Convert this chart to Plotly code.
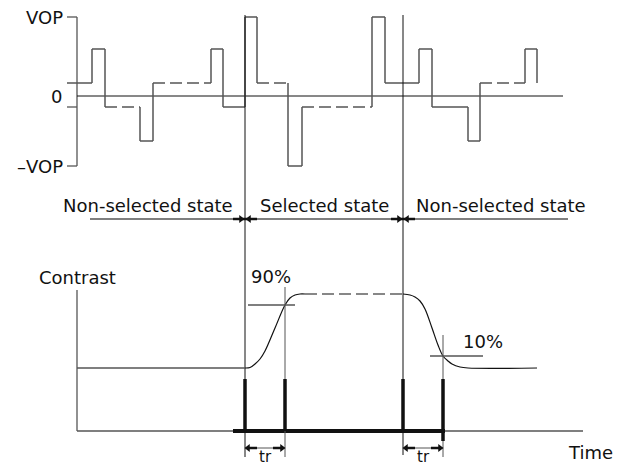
import plotly.graph_objects as go

# ---------------- data (diagram units: time along x, level along y, y grows downward) -------------
# voltage levels (vertical positions)
LV_VOP, LV_MID, LV_SMALL, LV_ZERO = 17, 49, 83, 96
LV_NSMALL, LV_NMID, LV_NVOP = 107, 141, 166

# waveform steps: start time, end time, level, dashed?
step_start = [67, 92, 105, 140, 153, 211, 223, 245, 257, 288, 302, 372, 385, 419, 432, 468, 480, 525]
step_end   = [92, 105, 140, 153, 211, 223, 245, 257, 288, 302, 372, 385, 419, 432, 468, 480, 525, 537]
step_level = [83, 49, 107, 141, 83, 49, 107, 17, 83, 166, 107, 17, 83, 49, 107, 141, 83, 49]
step_dash  = [0, 0, 1, 0, 1, 0, 0, 0, 1, 0, 1, 0, 0, 0, 0, 0, 1, 0]
wave_end_level = 83

axis_x = 77
tick_x0 = 67
zero_line = [77, 563]

# selection boundaries
t_sel_on, t_sel_off = 245, 403
boundary_top, boundary_bottom = [15, 15], [457, 455]

# state band
state_line_y = 219
state_line_x = [90, 568]
state_labels = ["Non-selected state", "Selected state", "Non-selected state"]
state_label_x = [148, 324, 501]
state_label_y = 205

# contrast response
contrast_low_t = [77, 245]
contrast_low_v = [368, 368]
rise_t = [245, 250, 255, 260, 265, 275, 285, 290, 295, 300, 305]
rise_v = [368, 367.5, 364, 359, 351, 328, 305, 298, 295, 294, 294]
hold_t = [305, 403]
hold_v = [294, 294]
fall_t = [403, 410, 415, 420, 425, 432, 438, 443, 448, 452, 460, 468, 537]
fall_v = [294, 295, 297, 301, 309, 328, 345, 356, 361, 364, 367, 368, 368]

contrast_axis_x = 77
contrast_axis_top = 290
time_axis_y = 431
time_axis_x = [77, 583]
time_bold_x = [233, 445]

t90, c90 = 285, 305
t10, c10 = 443, 356
bar_top = 379
tr_y = 448

# ---------------- figure ----------------
fig = go.Figure()
INK = "#111111"
GRAY = "#555555"

def line(x, y, color=INK, width=1, dash="solid", shape="linear"):
    fig.add_trace(go.Scatter(x=x, y=y, mode="lines", hoverinfo="skip",
                             line=dict(color=color, width=width, dash=dash, shape=shape)))

# voltage axis
line([axis_x, axis_x], [LV_VOP, LV_NVOP], GRAY, 1.3)
for lv in [LV_VOP, LV_NSMALL, LV_NVOP]:
    line([tick_x0, axis_x], [lv, lv], GRAY, 1.3)
line(zero_line, [LV_ZERO, LV_ZERO], INK, 1)

# waveform
for i in range(len(step_start)):
    line([step_start[i], step_end[i]], [step_level[i], step_level[i]], GRAY, 1.5,
         "12px,5px" if step_dash[i] else "solid")
    nxt = step_level[i + 1] if i + 1 < len(step_level) else wave_end_level
    line([step_end[i], step_end[i]], [step_level[i], nxt], GRAY, 1.5)

# boundaries
for t, top, bot in zip([t_sel_on, t_sel_off], boundary_top, boundary_bottom):
    line([t, t], [top, bot], INK, 1)

# state line and arrows
line(state_line_x, [state_line_y] * 2, GRAY, 1.5)
for t in [t_sel_on, t_sel_off]:
    line([t - 12, t + 12], [state_line_y] * 2, INK, 2.5)
    fig.add_trace(go.Scatter(x=[t - 4, t + 4], y=[state_line_y] * 2, mode="markers", hoverinfo="skip",
                             marker=dict(symbol=["triangle-right", "triangle-left"], size=7, color=INK)))

# contrast axes
line([contrast_axis_x, contrast_axis_x], [contrast_axis_top, time_axis_y], GRAY, 1.3)
line(time_axis_x, [time_axis_y] * 2, GRAY, 1.3)
line(time_bold_x, [time_axis_y] * 2, INK, 4)

# contrast curve
line(contrast_low_t, contrast_low_v, GRAY, 1.3)
line(rise_t, rise_v, INK, 1.2, shape="spline")
line(hold_t, hold_v, INK, 1.2, "12px,5px")
line(fall_t, fall_v, INK, 1.2, shape="spline")

# 90% / 10% markers
line([248, 295], [c90, c90], GRAY, 1.3)
line([t90, t90], [287, 457], GRAY, 1)
line([430, 483], [c10, c10], GRAY, 1.3)
line([t10, t10], [335, 457], GRAY, 1)

# bold bars
for t, bot in zip([t_sel_on, t90, t_sel_off, t10], [431, 431, 431, 441]):
    line([t, t], [bar_top, bot], INK, 3.5)

# tr arrows
for a, b in [(t_sel_on, t90), (t_sel_off, t10)]:
    line([a, b], [tr_y, tr_y], GRAY, 1)
    line([a + 3, a + 12], [tr_y, tr_y], INK, 2.5)
    line([b - 12, b - 3], [tr_y, tr_y], INK, 2.5)
    fig.add_trace(go.Scatter(x=[a + 3, b - 3], y=[tr_y, tr_y], mode="markers", hoverinfo="skip",
                             marker=dict(symbol=["triangle-left", "triangle-right"], size=7, color=INK)))

# ---------------- text ----------------
FONT = dict(family="DejaVu Sans", size=18, color=INK)
def label(x, y, text, anchor="center", yanchor="middle", size=18):
    fig.add_annotation(x=x, y=y, text=text, showarrow=False, xanchor=anchor, yanchor=yanchor,
                       font=dict(FONT, size=size), xref="x", yref="y")

label(65, LV_VOP, "VOP", "right")
label(64, LV_ZERO, "0", "right")
label(65, LV_NVOP, "–VOP", "right")
for s, x in zip(state_labels, state_label_x):
    label(x, state_label_y, s)
label(37, 277, "Contrast", "left")
label(249, 276, "90%", "left")
label(461, 341, "10%", "left")
label(566, 452, "Time", "left")
label(265, 468, "tr", yanchor="bottom", size=15)
label(423, 468, "tr", yanchor="bottom", size=15)

fig.update_layout(
    width=617, height=468, margin=dict(l=0, r=0, t=0, b=0),
    paper_bgcolor="white", plot_bgcolor="white", showlegend=False,
    xaxis=dict(range=[0, 617], visible=False, fixedrange=True),
    yaxis=dict(range=[468, 0], visible=False, fixedrange=True),
)
fig.write_html("out.html", config={"displayModeBar": False},
               post_script="document.body.style.margin='0';document.body.style.overflow='hidden';")
